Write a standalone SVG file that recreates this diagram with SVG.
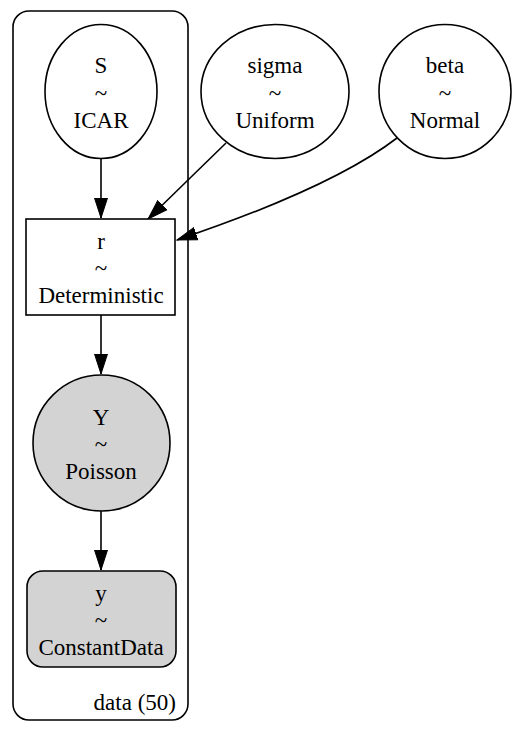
<svg xmlns="http://www.w3.org/2000/svg" width="527" height="731" viewBox="0 0 527 731">
<defs>
<style>
.n{fill:#fff;stroke:#000;stroke-width:1.6}
.g{fill:#d3d3d3;stroke:#000;stroke-width:1.6}
.e{fill:none;stroke:#000;stroke-width:1.6}
text{font-family:"Liberation Serif","Times New Roman",serif;font-size:23px;text-anchor:middle;fill:#000}
</style>
<marker id="ah" markerUnits="userSpaceOnUse" markerWidth="22" markerHeight="16" refX="20" refY="7" orient="auto" viewBox="0 0 22 14">
<path d="M0,0.5 L20,7 L0,13.5 z" fill="#000" stroke="#000" stroke-width="1"/>
</marker>
</defs>
<rect width="527" height="731" fill="#fff"/>
<g id="cluster_data">
<rect x="13" y="11" width="175" height="709" rx="16" ry="16" fill="none" stroke="#000" stroke-width="1.6"/>
<text x="176" y="710" style="text-anchor:end">data (50)</text>
</g>
<g id="edges">
<path class="e" d="M101,159 L101,218" marker-end="url(#ah)"/>
<path class="e" d="M226,143 L148,219" marker-end="url(#ah)"/>
<path class="e" d="M397,138 C345,178 260,212 177,240" marker-end="url(#ah)"/>
<path class="e" d="M101,315 L101,374" marker-end="url(#ah)"/>
<path class="e" d="M101,511 L101,570" marker-end="url(#ah)"/>
</g>
<g id="S">
<ellipse class="n" cx="101" cy="91.5" rx="56" ry="67"/>
<text x="101" y="73">S</text>
<text x="101" y="100.5">~</text>
<text x="101" y="128">ICAR</text>
</g>
<g id="sigma">
<ellipse class="n" cx="275" cy="91.5" rx="74" ry="67"/>
<text x="275" y="73">sigma</text>
<text x="275" y="100.5">~</text>
<text x="275" y="128">Uniform</text>
</g>
<g id="beta">
<ellipse class="n" cx="445" cy="91.5" rx="66" ry="67"/>
<text x="445" y="73">beta</text>
<text x="445" y="100.5">~</text>
<text x="445" y="128">Normal</text>
</g>
<g id="r">
<rect class="n" x="26" y="219" width="149" height="96"/>
<text x="101" y="249">r</text>
<text x="101" y="276">~</text>
<text x="101" y="303">Deterministic</text>
</g>
<g id="Y">
<ellipse class="g" cx="101.5" cy="443" rx="68.5" ry="68"/>
<text x="101" y="425">Y</text>
<text x="101" y="452">~</text>
<text x="101" y="479">Poisson</text>
</g>
<g id="y">
<rect class="g" x="27" y="571" width="149" height="96" rx="16" ry="16"/>
<text x="101" y="601">y</text>
<text x="101" y="628">~</text>
<text x="101" y="655">ConstantData</text>
</g>
</svg>
